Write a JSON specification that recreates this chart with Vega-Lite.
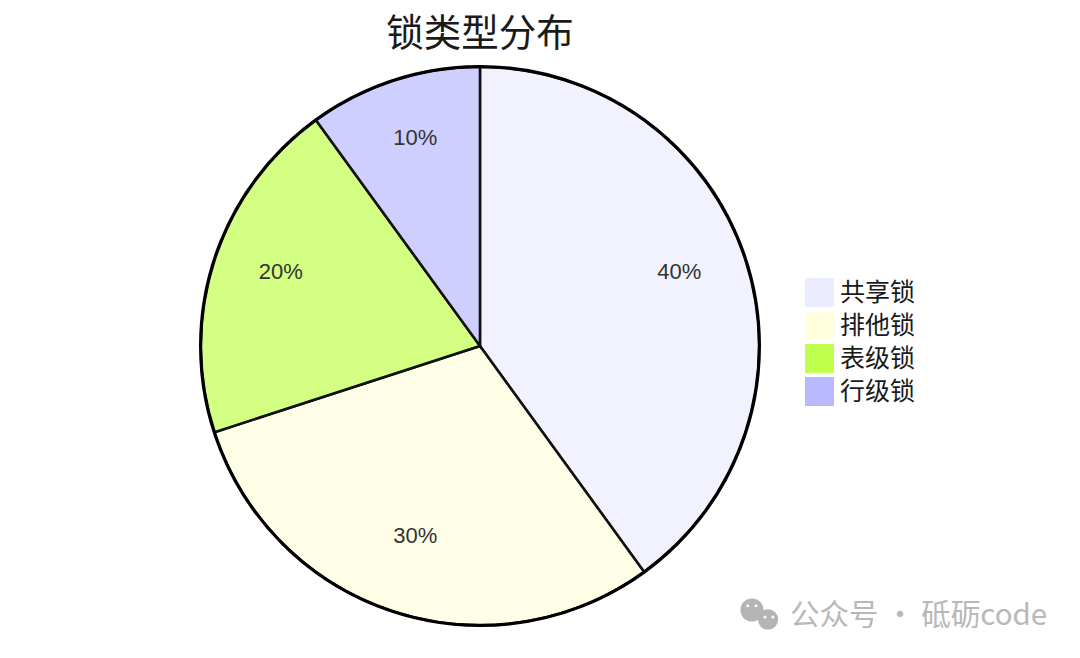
{
"$schema":"https://vega.github.io/schema/vega-lite/v6.json",
"width":960,"height":624,
"autosize":{"type":"none"},
"padding":{"left":0,"right":120,"top":34,"bottom":0},
"background":"white",
"title":{"text":"锁类型分布","font":"Noto Sans CJK SC","fontSize":37.5,"fontWeight":"normal","color":"#1a1a1a","anchor":"middle","baseline":"alphabetic","offset":-49},
"config":{"view":{"stroke":null}},
"layer":[
{"data":{"values":[{"name":"共享锁","value":40,"idx":1,"label":"40%"},{"name":"排他锁","value":30,"idx":2,"label":"30%"},{"name":"表级锁","value":20,"idx":3,"label":"20%"},{"name":"行级锁","value":10,"idx":4,"label":"10%"}]},
"layer":[
{"mark":{"type":"arc","outerRadius":279,"fillOpacity":0.7,"stroke":"#111111","strokeWidth":2.5},
"encoding":{"theta":{"field":"value","type":"quantitative","stack":true},"order":{"field":"idx"},
"color":{"field":"name","type":"nominal","sort":["共享锁","排他锁","表级锁","行级锁"],
"scale":{"domain":["共享锁","排他锁","表级锁","行级锁"],"range":["#ECECFF","#FFFFDE","#C0FF4D","#B9B9FF"]},
"legend":{"title":null,"orient":"none","legendX":805,"legendY":244,"symbolType":"square","symbolSize":841,"symbolOpacity":1,"symbolFillOpacity":1,"symbolStrokeWidth":0,"labelFont":"Noto Sans CJK SC","labelFontSize":25,"labelColor":"#1a1a1a","labelOffset":6,"rowPadding":4,"clipHeight":29,"padding":0}}}},
{"mark":{"type":"text","radius":209.5,"dy":-9,"font":"Liberation Sans","fontSize":22,"color":"#333333"},
"encoding":{"theta":{"field":"value","type":"quantitative","stack":true},"order":{"field":"idx"},"text":{"field":"label"}}}
]},
{"data":{"values":[{"ring":1}]},"mark":{"type":"arc","outerRadius":279.5,"theta":0,"theta2":6.2832,"fillOpacity":0,"stroke":"#000000","strokeWidth":3},"encoding":{}},
{"data":{"values":[{"xp":0.7833,"yp":0.0769,"s":531,"c":"#b4b4b4"},{"xp":0.8,"yp":0.0617,"s":415,"c":"#b4b4b4"},{"xp":0.779,"yp":0.0838,"s":9,"c":"#ffffff"},{"xp":0.7875,"yp":0.0838,"s":9,"c":"#ffffff"},{"xp":0.7969,"yp":0.0657,"s":9,"c":"#ffffff"},{"xp":0.805,"yp":0.0657,"s":9,"c":"#ffffff"}]},
"mark":{"type":"point","shape":"circle","filled":true,"opacity":1},
"encoding":{"x":{"field":"xp","type":"quantitative","scale":{"domain":[0,1]},"axis":null},"y":{"field":"yp","type":"quantitative","scale":{"domain":[0,1]},"axis":null},"size":{"field":"s","type":"quantitative","scale":null},"color":{"field":"c","type":"nominal","scale":null,"legend":null},"order":{"field":"s","sort":"descending"}}},
{"data":{"values":[{"xp":0.823,"yp":0.0673,"t":"公众号 · 砥砺code"}]},
"mark":{"type":"text","align":"left","baseline":"middle","font":"Noto Sans CJK SC","fontSize":29.5,"color":"#b8b8b8"},
"encoding":{"x":{"field":"xp","type":"quantitative","scale":{"domain":[0,1]},"axis":null},"y":{"field":"yp","type":"quantitative","scale":{"domain":[0,1]},"axis":null},"text":{"field":"t"}}}
]
}
